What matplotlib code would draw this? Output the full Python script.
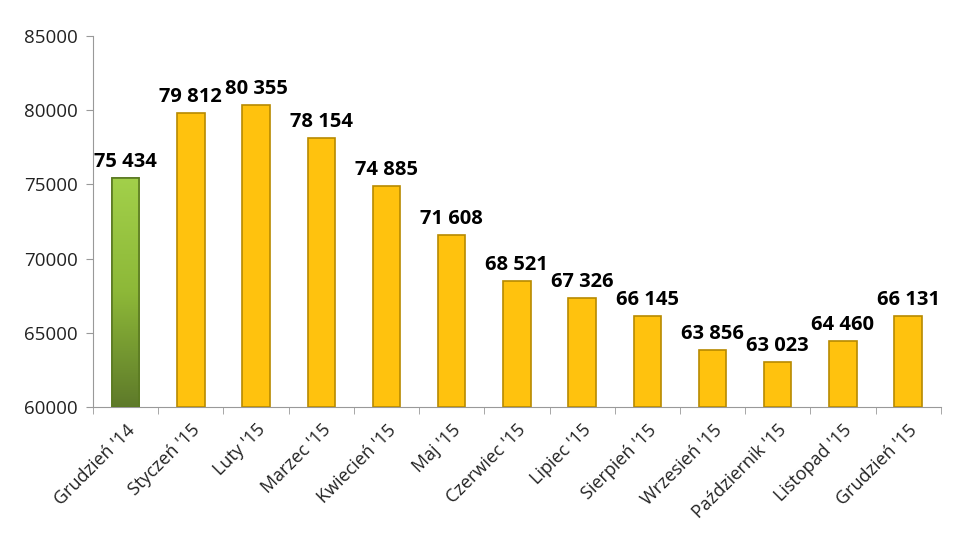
import matplotlib
matplotlib.use("Agg")
import matplotlib.pyplot as plt
from matplotlib.colors import LinearSegmentedColormap
import numpy as np

categories = ["Grudzień '14", "Styczeń '15", "Luty '15", "Marzec '15", "Kwiecień '15",
              "Maj '15", "Czerwiec '15", "Lipiec '15", "Sierpień '15", "Wrzesień '15",
              "Październik '15", "Listopad '15", "Grudzień '15"]
values = [75434, 79812, 80355, 78154, 74885, 71608, 68521, 67326, 66145, 63856, 63023, 64460, 66131]
yticks = [60000, 65000, 70000, 75000, 80000, 85000]

plt.rcParams['font.family'] = ['Open Sans', 'DejaVu Sans']

fig = plt.figure(figsize=(9.59, 5.47), dpi=100)
ax = fig.add_axes([0.097, 0.256, 0.884, 0.678])

x = np.arange(len(categories))
face = ['#8DB838'] + ['#FFC20E'] * (len(categories) - 1)
edge = ['#5B7A22'] + ['#B88A00'] * (len(categories) - 1)
bars = ax.bar(x, [v - 60000 for v in values], bottom=60000, width=0.42,
              color=face, edgecolor=edge, linewidth=1.2, zorder=3)

# vertical gradient for the first (green) bar
green_cmap = LinearSegmentedColormap.from_list('g', ['#5E7A2A', '#8DB838', '#A2D04A'])
b0 = bars[0]
grad = np.linspace(0, 1, 256).reshape(-1, 1)
im = ax.imshow(grad, cmap=green_cmap, origin='lower', aspect='auto', zorder=3.5,
               extent=(b0.get_x(), b0.get_x() + b0.get_width(),
                       b0.get_y(), b0.get_y() + b0.get_height()))
im.set_clip_path(b0)
ax.bar(x[:1], [values[0] - 60000], bottom=60000, width=0.42, fill=False,
       edgecolor=edge[0], linewidth=1.2, zorder=4)

for xi, v in zip(x, values):
    lab = f"{v:,}".replace(",", " ")
    ax.text(xi, v + 400, lab, ha='center', va='bottom', fontsize=14.5,
            fontweight='bold', color='black')

ax.set_xlim(-0.5, len(categories) - 0.5)
ax.set_ylim(60000, 85000)
ax.set_yticks(yticks)
ax.set_yticklabels([str(t) for t in yticks], fontsize=13.5, color='#222222')

ax.set_xticks(x)
ax.set_xticklabels(categories, rotation=45, ha='right', rotation_mode='anchor',
                   fontsize=13, color='#222222')
ax.tick_params(axis='x', length=0, pad=10)
ax.set_xticks(np.arange(-0.5, len(categories)), minor=True)
ax.tick_params(axis='x', which='minor', length=5, color='#999999', direction='out')
ax.tick_params(axis='y', length=5, color='#999999', direction='out', pad=6)

for s in ['top', 'right']:
    ax.spines[s].set_visible(False)
for s in ['left', 'bottom']:
    ax.spines[s].set_color('#999999')

fig.savefig("out.png", dpi=100)
